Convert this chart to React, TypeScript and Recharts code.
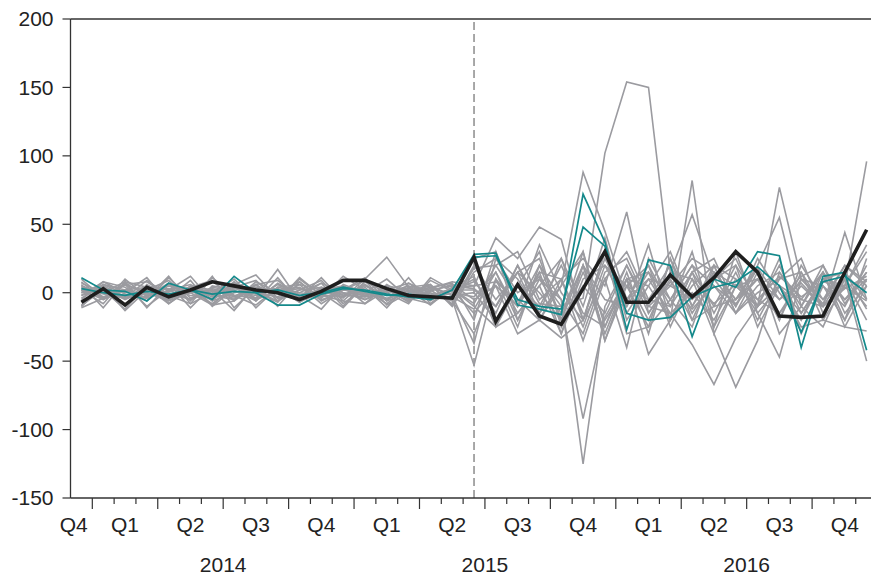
import { LineChart, Line, XAxis, YAxis, ReferenceLine } from 'recharts';

// monthly observations, Dec 2013 .. Dec 2016
const months = [
  '2013-12', '2014-01', '2014-02', '2014-03', '2014-04', '2014-05', '2014-06', '2014-07', '2014-08', '2014-09', '2014-10', '2014-11', '2014-12',
  '2015-01', '2015-02', '2015-03', '2015-04', '2015-05', '2015-06', '2015-07', '2015-08', '2015-09', '2015-10', '2015-11', '2015-12',
  '2016-01', '2016-02', '2016-03', '2016-04', '2016-05', '2016-06', '2016-07', '2016-08', '2016-09', '2016-10', '2016-11', '2016-12',
];

const black = [-7, 3, -9, 4, -3, 2, 8, 5, 2, 0, -5, 1, 9, 9, 3, -2, -3, -4, 26, -21, 6, -17, -23, 3, 30, -7, -7, 13, -3, 11, 30, 15, -17, -18, -17, 15, 46];
const teal1 = [11, 2, 1, -6, 7, 2, -5, 12, 0, -9, -9, -1, 3, 2, -1, -3, -5, 2, 28, 29, -9, -12, -16, 72, 37, -27, 24, 20, -32, 10, 4, 30, 27, -40, 12, 15, -42];
const teal2 = [3, 0, -2, 1, -1, 2, -1, 1, 0, 2, -2, 0, 4, 1, -2, -1, -4, -3, 26, 27, -5, -10, -12, 48, 34, -15, -20, -18, -3, 4, 8, 19, 5, -29, 8, 12, 0];

const g01 = [2, -8, 10, -3, 7, -11, 5, 2, -6, 11, -7, 4, -2, 6, -5, 2, -9, 4, 5, 8, -6, 12, -10, -4, 102, 154, 150, 15, 10, -8, 6, -5, 12, -3, 8, 4, -6];
const g02 = [-9, 2, -12, 6, -4, 9, -10, 3, 1, -7, 10, -2, 5, -8, 2, 7, -4, -3, -12, 15, -20, 10, -5, -125, -10, 20, -15, 8, -12, 5, -8, 10, -5, 7, -10, 3, 12];
const g03 = [10, -4, 6, -10, 2, 12, -6, 8, -11, 4, 0, 7, -10, 8, 3, -7, 9, 1, 10, -15, 20, -8, -10, -92, -18, 10, 5, -20, 15, -10, 20, -5, -15, 10, -8, 20, 5];
const g04 = [-5, 8, 0, 11, -8, 4, 9, -6, 6, -10, 8, -4, 12, 2, -8, 4, 6, -10, 15, 25, 10, -15, 5, 88, 45, -5, 20, -10, 15, 25, -10, 18, -5, 12, 20, -8, 15];
const g05 = [8, -5, 2, 4, -8, 3, -1, 5, -4, 17, -6, 1, 4, -3, 0, 5, -2, 3, -8, 20, 30, -5, 10, 25, 5, 59, -15, 10, -20, 15, 5, -10, 20, -15, 10, 5, 30];
const g06 = [0, 5, -13, 2, 9, -6, 12, -11, 4, 0, 8, -6, 2, 9, -9, 0, 4, 7, -20, 30, -10, 15, -30, 10, 20, -10, 35, -20, 82, -30, 5, 10, -15, 5, -10, 15, -5];
const g07 = [-10, 6, 2, -4, 12, -8, 0, 10, -6, 7, -2, -12, 6, 0, 10, -4, 2, -8, 20, -5, 15, 25, -20, 30, -25, 10, -20, 15, 57, 10, -10, 25, 0, -20, 10, 15, -12];
const g08 = [6, -11, 8, 4, -6, 0, -9, 6, 13, -4, 2, 9, -8, 4, -11, 7, 0, -6, -30, 10, -25, 20, -5, -30, 15, 25, -10, -15, -38, -67, -33, -10, 5, -20, 15, -5, 10];
const g09 = [1, 5, -3, -4, 2, 6, -2, -5, 4, 1, -3, 7, 0, -5, 3, -1, 4, -2, 0, -20, 5, 30, -25, 15, -20, 5, 20, -25, 10, -30, -69, -35, 15, -10, 20, -15, 5];
const g10 = [-6, 0, 8, -11, 6, 2, -8, 4, 9, -6, 11, -2, -6, 8, 0, -8, 11, 2, 8, -10, 20, -15, 25, -20, 10, 30, -5, 20, -15, 10, 25, -10, 77, 10, -5, 20, 8];
const g11 = [5, -1, -4, 3, 0, -5, 4, 1, -2, 3, -7, 2, 5, -2, 4, -5, 1, 6, -5, 5, -10, 35, 0, -20, 30, -15, 10, 5, 25, 15, -5, 20, 55, -10, 15, -20, 25];
const g12 = [-2, 8, 4, -6, 11, -4, 2, -13, 6, 9, -4, 0, -11, 6, -6, 11, -8, 4, 12, -25, 5, -10, 20, -15, -25, 15, -30, 25, -10, 20, 10, -15, -47, 10, 5, -10, 20];
const g13 = [4, -4, 6, 0, -5, 3, -3, 7, 1, -6, 2, 4, -2, -3, 5, 2, -5, 0, -3, 15, -15, 5, 25, -10, 40, -20, 5, 30, -10, 15, -5, 10, -20, 15, -10, 5, 96];
const g14 = [-10, 4, -4, 9, -2, -8, 11, -2, -9, 4, 6, -8, 2, 11, -6, 0, 6, -9, 18, 20, -5, -20, 10, -25, 20, 5, -25, -5, 20, -15, 15, -20, 10, 25, -15, 10, -50];
const g15 = [2, -5, 7, -2, 1, 4, -6, 0, 3, -1, -5, 3, 4, -1, 2, -6, 2, 5, 3, -10, 15, 0, -20, 20, -5, -10, 15, -20, 5, 20, -15, 5, 15, -5, -10, 44, -5];
const g16 = [-2, 3, -5, 2, -4, 1, 2, -3, 6, -4, 0, -2, 3, -5, 1, 3, -1, -5, -53, 10, -10, 20, -20, 5, -15, 20, -10, 5, -5, 10, 20, -25, 5, -15, 10, -5, 15];
const g17 = [7, 0, -3, 1, 3, -2, -4, 5, -1, 2, 4, -5, -1, 2, -4, 1, 5, -2, -37, 25, 0, 10, -15, 20, -30, 10, 15, -5, 20, 5, -15, 15, -20, 20, -5, 10, -20];
const g18 = [-4, 6, -1, -3, 5, 0, 3, -2, -4, 6, -2, 1, -3, 5, -2, -1, 3, 8, 5, 40, 25, 48, 39, -20, 25, -5, 10, -15, 0, -20, 10, -10, 5, -5, 15, -25, 5];
const g19 = [3, 1, -2, 0, -6, 5, 2, -2, 0, -3, 6, 2, -4, 10, 26, 4, -6, 3, -10, -25, -15, 5, -30, 20, -35, 5, -5, -10, 30, -25, 5, -10, 25, -30, 5, -20, 10];
const g20 = [-11, -4, 6, 8, -2, 4, -9, -6, 8, 0, -4, 11, -6, -8, 6, -4, -8, 2, 2, -10, 15, -20, 5, 30, -35, 10, -45, -20, 15, -25, 30, -15, 5, -25, -20, -25, -28];
const g21 = [0, 3, -4, 5, 2, -5, 1, 4, -5, 1, 3, -3, 0, -2, 4, -3, -2, 2, -15, 5, -30, -20, -33, -20, 30, -30, -25, 25, -20, -10, -5, 18, -30, -10, -25, 10, -10];
const g22 = [5, -3, 1, -1, -2, 4, -1, -4, 2, 3, -6, -1, 2, 0, -5, 4, -3, 3, 25, 30, -20, 15, 10, -35, 10, -40, 25, -5, -25, 20, -15, 0, 10, 15, -20, 5, 35];

const grays = [g01, g02, g03, g04, g05, g06, g07, g08, g09, g10, g11, g12, g13, g14, g15, g16, g17, g18, g19, g20, g21, g22];

const yTicks = [-150, -100, -50, 0, 50, 100, 150, 200];
const quarterNames = ['Q4', 'Q1', 'Q2', 'Q3', 'Q4', 'Q1', 'Q2', 'Q3', 'Q4', 'Q1', 'Q2', 'Q3', 'Q4'];
const quarterAt = [-0.35, 2, 5, 8, 11, 14, 17, 20, 23, 26, 29, 32, 35];
const years = ['2014', '2015', '2016'];
const yearAt = [6.5, 18.5, 30.5];

const data = months.map((m, i) => {
  const row: Record<string, number | string> = { t: i, month: m, black: black[i], teal1: teal1[i], teal2: teal2[i] };
  grays.forEach((g, k) => { row['g' + k] = g[i]; });
  return row;
});

const boundaries = months.slice(1).map((_, i) => i + 0.5);
const xTicks = [...boundaries, ...quarterAt].sort((a, b) => a - b);

const font = '"Liberation Sans", Arial, sans-serif';
const axisColor = '#333';

function XTick(props: any) {
  const { x, y, payload } = props;
  const v = payload.value as number;
  const qi = quarterAt.indexOf(v);
  const yi = yearAt.indexOf(v);
  const isBoundary = boundaries.includes(v);
  const major = isBoundary && Math.round(v - 0.5) % 3 === 0;
  return (
    <g>
      {isBoundary && <line x1={x} x2={x} y1={y} y2={y + (major ? 11 : 6)} stroke={axisColor} strokeWidth={1.2} />}
      {qi >= 0 && (
        <text x={x} y={y + 34} textAnchor="middle" fontSize={21} fontFamily={font} fill="#222">{quarterNames[qi]}</text>
      )}
      {yi >= 0 && (
        <text x={x} y={y + 74} textAnchor="middle" fontSize={21} fontFamily={font} fill="#222">{years[yi]}</text>
      )}
    </g>
  );
}

export default function App() {
  return (
    <div style={{ position: 'absolute', left: 0, top: 0, width: 871, height: 578, overflow: 'hidden', background: '#fff' }}>
      <LineChart width={871} height={578} data={data} margin={{ top: 19, right: 0, bottom: 0, left: 0 }}>
        <XAxis
          dataKey="t"
          type="number"
          domain={[-0.5, 36.2]}
          ticks={xTicks}
          interval={0}
          height={80}
          tickSize={0}
          tickMargin={0}
          tickLine={false}
          tick={<XTick />}
          axisLine={{ stroke: axisColor, strokeWidth: 1.3 }}
        />
        <YAxis
          type="number"
          domain={[-150, 200]}
          ticks={yTicks}
          interval={0}
          width={70.5}
          tickSize={8}
          tickMargin={9}
          tickLine={{ stroke: axisColor, strokeWidth: 1.2 }}
          axisLine={{ stroke: axisColor, strokeWidth: 1.3 }}
          tick={{ fontSize: 21, fontFamily: font, fill: '#222' }}
        />
        <ReferenceLine y={200} stroke={axisColor} strokeWidth={1.3} />
        <ReferenceLine x={18} stroke="#7a7a7a" strokeWidth={1.3} strokeDasharray="8 4" />
        {grays.map((_, k) => (
          <Line key={k} type="linear" dataKey={'g' + k} stroke="#9b9ba0" strokeWidth={1.6} dot={false} isAnimationActive={false} />
        ))}
        <Line type="linear" dataKey="teal2" stroke="#14898b" strokeWidth={1.7} dot={false} isAnimationActive={false} />
        <Line type="linear" dataKey="teal1" stroke="#14898b" strokeWidth={1.7} dot={false} isAnimationActive={false} />
        <Line type="linear" dataKey="black" stroke="#1e1e1e" strokeWidth={3.6} dot={false} isAnimationActive={false} />
      </LineChart>
    </div>
  );
}
